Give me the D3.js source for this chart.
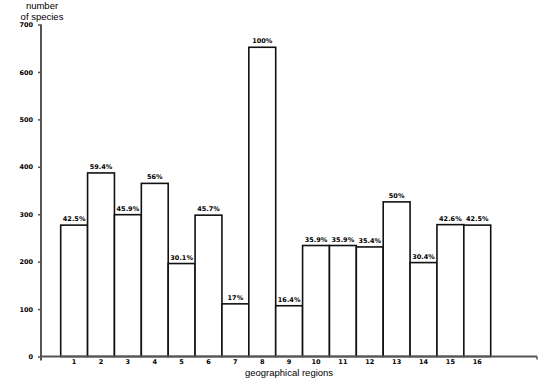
<!DOCTYPE html>
<html>
<head>
<meta charset="utf-8">
<script src="https://cdn.jsdelivr.net/npm/d3@7"></script>
<style>
html,body{margin:0;padding:0;background:#fff;}
svg{display:block;}
</style>
</head>
<body>
<svg id="chart" width="550" height="384"></svg>
<script>
const regions = ["1","2","3","4","5","6","7","8","9","10","11","12","13","14","15","16"];
const species = [277,387,299,365,196,298,111,652,107,234,234,231,326,198,278,277];
const percentLabels = ["42.5%","59.4%","45.9%","56%","30.1%","45.7%","17%","100%","16.4%","35.9%","35.9%","35.4%","50%","30.4%","42.6%","42.5%"];
const yTicks = [0,100,200,300,400,500,600,700];

const svg = d3.select("#chart");
const axisColor = "#555";

const y = d3.scaleLinear().domain([0,700]).range([356.5,24.5]);
const x = d3.scaleBand().domain(regions).range([60.7,490.7]).padding(0);

// bars
svg.append("g").selectAll("rect").data(regions).join("rect")
  .attr("x", d => x(d))
  .attr("y", (d,i) => y(species[i]))
  .attr("width", x.bandwidth())
  .attr("height", (d,i) => y(0) - y(species[i]))
  .attr("fill", "#fff")
  .attr("stroke", "#111")
  .attr("stroke-width", 1.6);

// percent labels
svg.append("g").selectAll("text").data(regions).join("text")
  .attr("x", d => x(d) + x.bandwidth()/2)
  .attr("y", (d,i) => y(species[i]) - 4)
  .attr("text-anchor", "middle")
  .attr("font-family", "DejaVu Sans, sans-serif")
  .attr("font-weight", "bold")
  .attr("font-size", 6.5)
  .attr("fill", "#000")
  .text((d,i) => percentLabels[i]);

// y axis
const yAxis = d3.axisLeft(y).tickValues(yTicks).tickSize(3).tickPadding(5).tickFormat(d3.format("d"));
const gy = svg.append("g").attr("transform","translate(41,0)").call(yAxis);
gy.select(".domain").attr("stroke", axisColor).attr("stroke-width", 2).attr("d", `M0,${y(700)}V${y(0)+4}`);
gy.selectAll(".tick line").attr("stroke", axisColor).attr("stroke-width",1.5);
gy.selectAll(".tick text").attr("font-family","DejaVu Sans, sans-serif").attr("font-weight","bold").attr("font-size",6.5).attr("fill","#000");

// x axis
const xAxis = d3.axisBottom(x).tickSize(0).tickPadding(3);
const gx = svg.append("g").attr("transform",`translate(0,${y(0)})`).call(xAxis);
gx.select(".domain").remove();
gx.selectAll(".tick text").attr("font-family","DejaVu Sans, sans-serif").attr("font-weight","bold").attr("font-size",6.5).attr("fill","#000");
svg.append("line").attr("x1",40).attr("x2",537).attr("y1",y(0)).attr("y2",y(0))
  .attr("stroke",axisColor).attr("stroke-width",2);
svg.append("line").attr("x1",537).attr("x2",537).attr("y1",y(0)).attr("y2",y(0)+3)
  .attr("stroke",axisColor).attr("stroke-width",1.5);

// titles
svg.append("text").attr("x",289).attr("y",376).attr("text-anchor","middle")
  .attr("font-family","Liberation Sans, Arial, sans-serif").attr("font-size",9.5).attr("fill","#000")
  .text("geographical regions");
const yt = svg.append("text").attr("font-family","Liberation Sans, Arial, sans-serif").attr("font-size",9.5).attr("fill","#000").attr("text-anchor","middle");
yt.append("tspan").attr("x",42).attr("y",8.5).text("number");
yt.append("tspan").attr("x",42).attr("y",19.5).text("of species");
</script>
</body>
</html>
